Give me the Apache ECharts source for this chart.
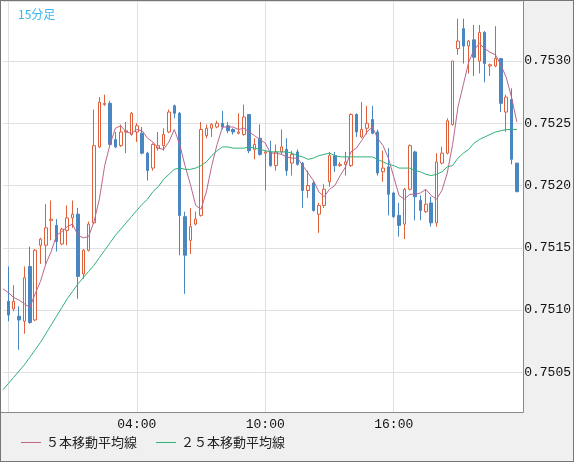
<!DOCTYPE html>
<html>
<head>
<meta charset="utf-8">
<script src="https://cdn.jsdelivr.net/npm/echarts@6/dist/echarts.min.js"></script>
<style>
html,body{margin:0;padding:0;background:#f0f0f0;}
#wrap{position:relative;width:574px;height:462px;}
#c{width:574px;height:462px;background:#f0f0f0;}
#frame{position:absolute;left:0;top:0;width:574px;height:462px;box-sizing:border-box;border:1px solid #767676;pointer-events:none;}
</style>
</head>
<body>
<div id="wrap"><div id="c"></div><div id="frame"></div></div>
<script>
// 15-minute bars, 22:00 -> 21:45 (plus one leading and one trailing slot)
const times = ["21:45",
"22:00","22:15","22:30","22:45","23:00","23:15","23:30","23:45",
"00:00","00:15","00:30","00:45","01:00","01:15","01:30","01:45",
"02:00","02:15","02:30","02:45","03:00","03:15","03:30","03:45",
"04:00","04:15","04:30","04:45","05:00","05:15","05:30","05:45",
"06:00","06:15","06:30","06:45","07:00","07:15","07:30","07:45",
"08:00","08:15","08:30","08:45","09:00","09:15","09:30","09:45",
"10:00","10:15","10:30","10:45","11:00","11:15","11:30","11:45",
"12:00","12:15","12:30","12:45","13:00","13:15","13:30","13:45",
"14:00","14:15","14:30","14:45","15:00","15:15","15:30","15:45",
"16:00","16:15","16:30","16:45","17:00","17:15","17:30","17:45",
"18:00","18:15","18:30","18:45","19:00","19:15","19:30","19:45",
"20:00","20:15","20:30","20:45","21:00","21:15","21:30","21:45",
""];
const labelTimes = ["04:00","10:00","16:00"];
const gridTimes = ["22:00","04:00","10:00","16:00"];

const opens = [null,
0.75107,0.75101,0.75095,0.75091,0.75135,0.75092,0.75152,0.75152,0.75172,0.75168,0.75153,0.75164,0.75174,0.75177,0.75129,0.75148,
0.75170,0.75231,0.75265,0.75266,0.75237,0.75232,0.75243,0.75241,0.75243,0.75242,0.75226,0.75214,0.75230,0.75232,0.75243,0.75264,
0.75258,0.75175,0.75156,0.75169,0.75176,0.75240,0.75246,0.75247,0.75250,0.75248,0.75245,0.75242,0.75241,0.75257,0.75229,0.75238,
0.75226,0.75227,0.75216,0.75227,0.75229,0.75218,0.75227,0.75218,0.75196,0.75202,0.75177,0.75184,0.75203,0.75224,0.75216,0.75217,
0.75216,0.75257,0.75239,0.75246,0.75253,0.75243,0.75211,0.75215,0.75194,0.75176,0.75169,0.75197,0.75227,0.75188,0.75179,0.75186,
0.75170,0.75218,0.75226,0.75249,0.75310,0.75326,0.75312,0.75317,0.75300,0.75323,0.75296,0.75296,0.75302,0.75259,0.75269,0.75218,
null];
const closes = [null,
0.75096,0.75107,0.75092,0.75126,0.75090,0.75148,0.75157,0.75166,0.75173,0.75155,0.75165,0.75174,0.75177,0.75127,0.75148,0.75169,
0.75232,0.75267,0.75266,0.75233,0.75231,0.75243,0.75244,0.75258,0.75248,0.75226,0.75212,0.75233,0.75232,0.75241,0.75259,0.75258,
0.75176,0.75144,0.75167,0.75173,0.75245,0.75246,0.75249,0.75250,0.75247,0.75244,0.75243,0.75243,0.75255,0.75228,0.75233,0.75225,
0.75227,0.75216,0.75227,0.75231,0.75212,0.75225,0.75217,0.75196,0.75200,0.75180,0.75184,0.75197,0.75224,0.75216,0.75217,0.75219,
0.75257,0.75243,0.75245,0.75250,0.75242,0.75210,0.75214,0.75193,0.75175,0.75168,0.75197,0.75232,0.75191,0.75180,0.75185,0.75170,
0.75219,0.75226,0.75252,0.75300,0.75316,0.75312,0.75316,0.75303,0.75323,0.75298,0.75297,0.75302,0.75266,0.75271,0.75221,0.75195,
null];
const highs = [null,
0.75135,0.75120,0.75103,0.75135,0.75151,0.75149,0.75158,0.75185,0.75188,0.75173,0.75166,0.75184,0.75188,0.75182,0.75149,0.75171,
0.75261,0.75271,0.75273,0.75268,0.75243,0.75249,0.75251,0.75259,0.75250,0.75247,0.75227,0.75234,0.75243,0.75246,0.75261,0.75265,
0.75259,0.75179,0.75182,0.75179,0.75251,0.75249,0.75250,0.75252,0.75260,0.75251,0.75246,0.75258,0.75265,0.75257,0.75238,0.75249,
0.75228,0.75236,0.75233,0.75245,0.75238,0.75228,0.75229,0.75219,0.75212,0.75204,0.75186,0.75201,0.75227,0.75227,0.75219,0.75227,
0.75258,0.75258,0.75267,0.75264,0.75264,0.75245,0.75228,0.75230,0.75195,0.75186,0.75198,0.75233,0.75228,0.75192,0.75197,0.75191,
0.75226,0.75231,0.75254,0.75300,0.75334,0.75334,0.75317,0.75329,0.75329,0.75324,0.75298,0.75328,0.75302,0.75273,0.75278,0.75218,
null];
const lows = [null,
0.75091,0.75099,0.75068,0.75081,0.75089,0.75091,0.75137,0.75137,0.75156,0.75147,0.75152,0.75152,0.75166,0.75109,0.75125,0.75147,
0.75169,0.75230,0.75264,0.75232,0.75230,0.75231,0.75226,0.75240,0.75235,0.75225,0.75204,0.75212,0.75228,0.75228,0.75242,0.75254,
0.75144,0.75113,0.75145,0.75168,0.75175,0.75238,0.75239,0.75246,0.75245,0.75242,0.75241,0.75241,0.75240,0.75226,0.75221,0.75224,
0.75196,0.75215,0.75212,0.75225,0.75208,0.75208,0.75216,0.75182,0.75190,0.75179,0.75162,0.75182,0.75199,0.75211,0.75215,0.75208,
0.75215,0.75239,0.75238,0.75241,0.75241,0.75208,0.75203,0.75176,0.75174,0.75159,0.75157,0.75196,0.75172,0.75172,0.75178,0.75167,
0.75167,0.75217,0.75225,0.75248,0.75305,0.75298,0.75290,0.75288,0.75290,0.75283,0.75288,0.75295,0.75259,0.75243,0.75217,0.75195,
null];
const ma5 = [0.75117,
0.75114,0.75110,0.75108,0.75105,0.75102,0.75113,0.75123,0.75137,0.75147,0.75160,0.75163,0.75167,0.75169,0.75160,0.75158,0.75159,
0.75171,0.75189,0.75216,0.75233,0.75246,0.75248,0.75243,0.75242,0.75245,0.75244,0.75238,0.75235,0.75230,0.75229,0.75235,0.75245,
0.75233,0.75216,0.75201,0.75184,0.75181,0.75195,0.75216,0.75233,0.75247,0.75247,0.75247,0.75245,0.75246,0.75243,0.75240,0.75237,
0.75234,0.75226,0.75226,0.75225,0.75223,0.75222,0.75222,0.75216,0.75210,0.75204,0.75195,0.75191,0.75197,0.75200,0.75208,0.75215,
0.75227,0.75230,0.75236,0.75243,0.75247,0.75238,0.75232,0.75222,0.75207,0.75192,0.75189,0.75193,0.75193,0.75194,0.75197,0.75192,
0.75189,0.75196,0.75210,0.75233,0.75263,0.75281,0.75299,0.75309,0.75314,0.75310,0.75307,0.75305,0.75297,0.75287,0.75271,0.75251,
null];
const ma25 = [0.75036,
0.75041,0.75046,0.75051,0.75056,0.75062,0.75068,0.75074,0.75081,0.75088,0.75095,0.75102,0.75109,0.75115,0.75121,0.75126,0.75131,
0.75136,0.75142,0.75148,0.75154,0.75160,0.75165,0.75170,0.75175,0.75180,0.75185,0.75189,0.75195,0.75199,0.75205,0.75209,0.75213,
0.75214,0.75213,0.75213,0.75214,0.75216,0.75219,0.75224,0.75228,0.75231,0.75231,0.75230,0.75230,0.75230,0.75231,0.75230,0.75229,
0.75228,0.75227,0.75227,0.75227,0.75227,0.75226,0.75224,0.75223,0.75221,0.75222,0.75224,0.75225,0.75226,0.75224,0.75223,0.75223,
0.75223,0.75223,0.75223,0.75223,0.75223,0.75221,0.75219,0.75217,0.75216,0.75214,0.75214,0.75214,0.75212,0.75211,0.75209,0.75208,
0.75209,0.75211,0.75215,0.75216,0.75222,0.75226,0.75229,0.75234,0.75237,0.75239,0.75241,0.75243,0.75244,0.75245,0.75245,0.75245,
null];

const RED = '#e0603c', BLUE = '#4a86c0', PINK = '#bb6590', GREEN = '#2fb276';
const candles = times.map((t, i) => opens[i] == null ? '-' : [opens[i], closes[i], lows[i], highs[i]]);
const lineVals = arr => arr.map(v => v == null ? '-' : v);

const chart = echarts.init(document.getElementById('c'), null, {renderer: 'canvas'});
chart.setOption({
  animation: false,
  backgroundColor: '#f0f0f0',
  title: {
    text: '15分足', left: 13, top: 3,
    textStyle: {fontSize: 12, fontWeight: 'normal', color: '#3ab5ee', fontFamily: 'Noto Sans CJK JP'}
  },
  graphic: [
    {type: 'rect', z: -100, silent: true, shape: {x: 1, y: 1, width: 522, height: 411}, style: {fill: '#ffffff'}},
    {type: 'rect', z: 100, silent: true, shape: {x: 0.5, y: 0.5, width: 523, height: 412}, style: {fill: 'none', stroke: '#8a8a8a', lineWidth: 1}}
  ],
  legend: {
    left: 16, bottom: 8, itemWidth: 20, itemHeight: 1, itemGap: 19, icon: 'rect',
    data: ['５本移動平均線', '２５本移動平均線'],
    textStyle: {fontSize: 13, color: '#222', fontFamily: 'Noto Sans CJK JP'}
  },
  grid: {left: 3, right: 50, top: 1, bottom: 50, show: false},
  xAxis: {
    type: 'category', data: times, boundaryGap: false,
    axisLine: {show: false}, axisTick: {show: false},
    axisLabel: {
      interval: (i, v) => labelTimes.indexOf(v) >= 0,
      fontFamily: 'Liberation Mono', fontSize: 13, color: '#111', margin: 6
    },
    splitLine: {
      show: true,
      interval: (i, v) => gridTimes.indexOf(v) >= 0,
      lineStyle: {color: '#e0e0e0', width: 1}
    }
  },
  yAxis: {
    type: 'value', position: 'right', scale: true,
    min: 0.750181, max: 0.753482, minInterval: 0.0005, maxInterval: 0.0005,
    axisLine: {show: false}, axisTick: {show: false},
    axisLabel: {
      formatter: v => Math.abs(v * 2000 - Math.round(v * 2000)) < 1e-6 ? v.toFixed(4) : '',
      fontFamily: 'Liberation Mono', fontSize: 13, color: '#111', margin: 2
    },
    splitLine: {show: true, lineStyle: {color: '#e0e0e0', width: 1}}
  },
  series: [
    {
      type: 'candlestick', data: candles, barWidth: 3,
      itemStyle: {color: '#ffffff', color0: BLUE, borderColor: RED, borderColor0: BLUE, borderWidth: 1}
    },
    {
      name: '５本移動平均線', type: 'line', data: lineVals(ma5), symbol: 'none', smooth: false,
      lineStyle: {color: PINK, width: 1}, itemStyle: {color: PINK}
    },
    {
      name: '２５本移動平均線', type: 'line', data: lineVals(ma25), symbol: 'none', smooth: false,
      lineStyle: {color: GREEN, width: 1}, itemStyle: {color: GREEN}
    }
  ]
});
</script>
</body>
</html>
